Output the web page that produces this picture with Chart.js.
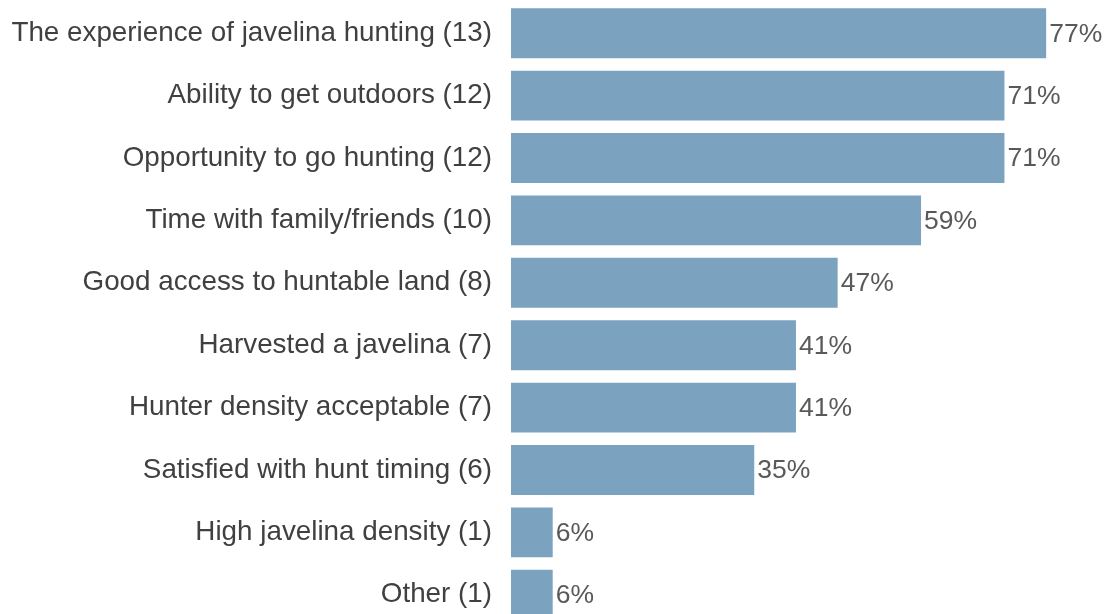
<!DOCTYPE html>
<html>
<head>
<meta charset="utf-8">
<script src="https://cdn.jsdelivr.net/npm/chart.js@4/dist/chart.umd.min.js"></script>
<style>
  html, body { margin: 0; padding: 0; background: #fff; overflow: hidden; }
  #wrap { width: 1107px; height: 626px; }
</style>
</head>
<body>
<div id="wrap"><canvas id="grafico" width="1107" height="626"></canvas></div>
<script>
const categorias = [
  "The experience of javelina hunting",
  "Ability to get outdoors",
  "Opportunity to go hunting",
  "Time with family/friends",
  "Good access to huntable land",
  "Harvested a javelina",
  "Hunter density acceptable",
  "Satisfied with hunt timing",
  "High javelina density",
  "Other"
];
const conteos = [13, 12, 12, 10, 8, 7, 7, 6, 1, 1];
const porcentajes = [77, 71, 71, 59, 47, 41, 41, 35, 6, 6];

const etiquetas = categorias.map((c, i) => c + " (" + conteos[i] + ")");

// dibuja el porcentaje al final de cada barra
const valorEtiquetas = {
  id: "valorEtiquetas",
  afterDatasetsDraw(chart) {
    const ctx = chart.ctx;
    const meta = chart.getDatasetMeta(0);
    ctx.save();
    ctx.font = "26.5px Arial, 'Liberation Sans', sans-serif";
    ctx.fillStyle = "#595959";
    ctx.textAlign = "left";
    ctx.textBaseline = "middle";
    meta.data.forEach((bar, i) => {
      ctx.fillText(porcentajes[i] + "%", bar.x + 3, bar.y + 1);
    });
    ctx.restore();
  }
};

new Chart(document.getElementById("grafico"), {
  type: "bar",
  data: {
    labels: etiquetas,
    datasets: [
      {
        label: "Porcentaje",
        data: porcentajes,
        backgroundColor: "#7BA2BF",
        borderWidth: 0,
        categoryPercentage: 1,
        barPercentage: 0.8,
      },
    ],
  },
  options: {
    indexAxis: "y",
    responsive: false,
    animation: false,
    devicePixelRatio: 1,
    layout: { padding: { top: 2, right: 40, bottom: 0, left: 0 } },
    plugins: {
      legend: { display: false },
      tooltip: { enabled: false },
    },
    scales: {
      x: {
        display: false,
        min: 0,
        max: 80,
      },
      y: {
        grid: { display: false, drawTicks: false },
        border: { display: false },
        afterFit(scale) {
          scale.width = 511;
          scale.paddingTop = 0;
          scale.paddingBottom = 0;
        },
        ticks: {
          padding: 19,
          color: "#404040",
          font: { family: "Arial, 'Liberation Sans', sans-serif", size: 27.8 },
        },
      },
    },
  },
  plugins: [valorEtiquetas],
});
</script>
</body>
</html>
